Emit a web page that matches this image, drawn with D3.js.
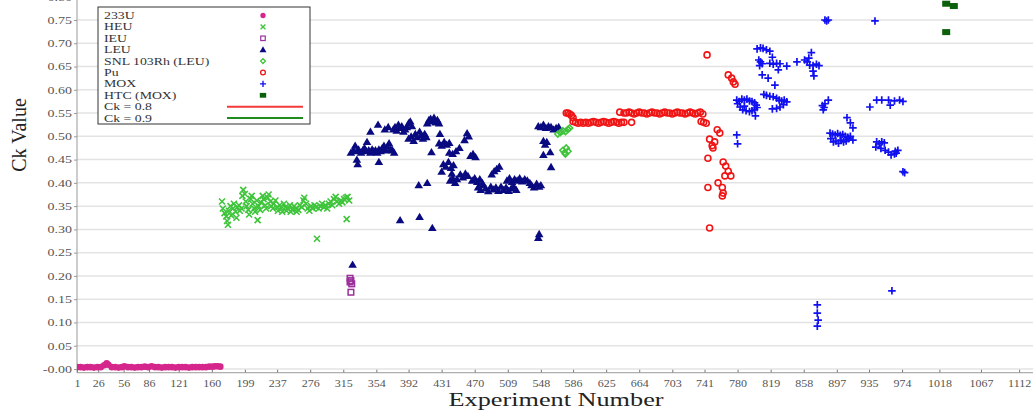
<!DOCTYPE html>
<html><head><meta charset="utf-8">
<script src="https://cdn.jsdelivr.net/npm/d3@7"></script>
<style>body{margin:0;background:#fff;}svg{display:block;}</style>
</head><body>
<svg id="c" width="1033" height="410"></svg>
<script>
// ---------- data ----------
const xTickLabels = [1,26,56,86,121,160,199,237,276,315,354,392,431,470,509,548,586,625,664,703,741,780,819,858,897,935,974,1018,1067,1112];
const yTickValues = [0,0.05,0.10,0.15,0.20,0.25,0.30,0.35,0.40,0.45,0.50,0.55,0.60,0.65,0.70,0.75,0.80];
const yTickLabels = ["-0.00","0.05","0.10","0.15","0.20","0.25","0.30","0.35","0.40","0.45","0.50","0.55","0.60","0.65","0.70","0.75","0.80"];
const legendLabels = ["233U","HEU","IEU","LEU","SNL 103Rh (LEU)","Pu","MOX","HTC (MOX)","Ck = 0.8","Ck = 0.9"];
const refLines = [0.8, 0.9];

const u233 = [[1,0.004],[5,0.004],[9,0.003],[13,0.004],[17,0.004],[21,0.003],[25,0.004],[29,0.004],[33,0.008],[36,0.012],[38,0.009],[42,0.004],[46,0.004],[50,0.003],[54,0.004],[57,0.006],[61,0.004],[65,0.004],[69,0.003],[73,0.004],[77,0.004],[81,0.005],[85,0.004],[89,0.006],[93,0.004],[97,0.004],[101,0.003],[105,0.004],[109,0.004],[113,0.004],[117,0.003],[121,0.004],[125,0.004],[129,0.004],[133,0.003],[137,0.004],[141,0.004],[145,0.004],[149,0.004],[153,0.004],[157,0.005],[161,0.005],[164,0.006],[167,0.006],[170,0.005]];

const heu = [[172,0.360],[173,0.345],[175,0.335],[177,0.328],[178,0.318],[179,0.310],[180,0.340],[182,0.350],[183,0.330],[185,0.345],[186,0.355],[188,0.338],[189,0.325],[190,0.348],[192,0.352],[193,0.340],[195,0.345],[196,0.372],[197,0.385],[199,0.376],[200,0.360],[201,0.350],[203,0.342],[204,0.332],[206,0.365],[207,0.372],[208,0.355],[210,0.345],[211,0.338],[213,0.362],[214,0.320],[215,0.350],[217,0.342],[218,0.358],[220,0.372],[221,0.365],[223,0.352],[224,0.345],[226,0.368],[227,0.375],[229,0.360],[230,0.350],[232,0.345],[233,0.355],[235,0.362],[237,0.348],[238,0.340],[240,0.352],[242,0.345],[243,0.338],[245,0.355],[247,0.348],[248,0.340],[250,0.345],[252,0.352],[253,0.338],[255,0.342],[257,0.350],[259,0.345],[260,0.338],[262,0.342],[264,0.352],[266,0.348],[268,0.362],[269,0.368],[271,0.355],[273,0.345],[275,0.340],[277,0.350],[279,0.345],[281,0.352],[283,0.348],[284,0.280],[286,0.345],[288,0.350],[290,0.355],[292,0.348],[294,0.352],[296,0.345],[298,0.355],[300,0.360],[302,0.352],[304,0.365],[306,0.370],[308,0.360],[310,0.355],[312,0.362],[314,0.358],[316,0.365],[318,0.368],[319,0.322],[320,0.370],[322,0.362]];

const ieu = [[323,0.195],[324,0.190],[323,0.187],[325,0.183],[324,0.165]];

const leu = [[326,0.224],
[324,0.465],[327,0.470],[329,0.480],[331,0.468],[333,0.472],[336,0.465],[338,0.470],[340,0.475],[342,0.468],[345,0.470],[347,0.465],[349,0.472],[351,0.468],[353,0.470],[355,0.465],[357,0.472],[359,0.468],[361,0.475],[363,0.480],[365,0.470],[367,0.478],[369,0.485],[371,0.472],[373,0.470],[375,0.465],
[331,0.450],[332,0.440],[357,0.445],
[343,0.488],[347,0.510],[356,0.525],[364,0.515],[368,0.520],
[374,0.515],[376,0.520],[378,0.512],[380,0.525],[382,0.518],[384,0.522],[386,0.510],[388,0.515],[390,0.520],[392,0.528],[394,0.532],[396,0.522],
[392,0.495],[395,0.500],[398,0.490],[400,0.505],[402,0.498],[405,0.510],[407,0.502],[409,0.495],[411,0.505],[413,0.498],
[414,0.528],[416,0.535],[418,0.538],[420,0.532],[422,0.540],[424,0.530],[426,0.535],[428,0.528],
[419,0.466],[429,0.505],
[428,0.485],[431,0.480],[434,0.488],[437,0.482],[440,0.486],
[433,0.440],[436,0.435],[439,0.445],[442,0.432],[445,0.438],
[440,0.465],[444,0.462],[448,0.468],
[452,0.475],[458,0.492],[461,0.507],[463,0.500],
[465,0.458],[468,0.462],[471,0.455],
[431,0.424],[443,0.420],
[441,0.405],[444,0.410],[447,0.400],[449,0.408],
[453,0.418],[456,0.412],[459,0.420],[462,0.415],
[467,0.405],[470,0.410],[473,0.402],[476,0.408],[479,0.400],
[474,0.390],[477,0.385],[480,0.395],[483,0.388],[486,0.382],[489,0.392],[492,0.386],
[490,0.418],[493,0.425],[496,0.430],[499,0.435],
[495,0.390],[498,0.383],[501,0.392],[504,0.385],[507,0.390],[510,0.383],[513,0.388],[516,0.392],[519,0.385],
[508,0.405],[511,0.410],[514,0.402],[517,0.408],[520,0.405],[523,0.410],[526,0.403],[529,0.408],[532,0.405],[535,0.400],
[537,0.395],[540,0.390],[543,0.398],[546,0.392],[548,0.395],
[404,0.395],[414,0.400],
[382,0.320],[405,0.327],[420,0.303],[546,0.290],[545,0.282],
[545,0.522],[548,0.520],[551,0.525],[554,0.518],[557,0.522],[560,0.520],[563,0.515],[566,0.518],[569,0.520],
[551,0.490],[553,0.482],[555,0.488],
[551,0.460],[559,0.466],[560,0.434]];

const snl = [[568,0.505],[571,0.508],[574,0.512],[577,0.510],[580,0.515],[582,0.518],[574,0.470],[576,0.465],[578,0.475],[580,0.468],[577,0.462]];

const pu = [[578,0.550],[580,0.550],[582,0.548],[584,0.545],[586,0.540],
[586,0.532],[589,0.530],[592,0.528],[595,0.530],[598,0.528],[601,0.530],[604,0.528],[607,0.530],[610,0.532],[613,0.530],[616,0.528],[619,0.530],[622,0.532],[625,0.530],[628,0.528],[631,0.530],[634,0.532],[637,0.530],[640,0.528],[643,0.530],[646,0.530],[655,0.530],
[641,0.552],[646,0.550],[649,0.550],[652,0.552],[655,0.550],[658,0.548],[661,0.550],[664,0.552],[667,0.550],[670,0.550],[673,0.548],[676,0.550],[679,0.552],[682,0.550],[685,0.550],[688,0.548],[691,0.550],[694,0.552],[697,0.550],[700,0.550],[703,0.548],[706,0.550],[709,0.552],[712,0.550],[715,0.550],[718,0.548],[721,0.550],[724,0.552],[727,0.550],[730,0.548],[733,0.550],[736,0.552],[739,0.548],
[737,0.532],[740,0.530],[743,0.528],
[756,0.514],[759,0.507],[747,0.494],[753,0.488],[750,0.480],[751,0.475],
[745,0.453],
[763,0.445],[766,0.436],[769,0.425],[765,0.415],[772,0.415],
[745,0.390],[757,0.400],[762,0.390],[763,0.378],[762,0.372],
[747,0.303],[744,0.675],
[769,0.632],[773,0.625],[775,0.617],[777,0.612]];

const mox = [[803,0.688],[807,0.690],[810,0.689],[814,0.686],[818,0.683],[821,0.670],
[805,0.664],[807,0.660],[809,0.656],[806,0.652],
[818,0.657],[822,0.655],[826,0.657],[830,0.656],[828,0.643],
[838,0.651],[850,0.660],[859,0.664],[862,0.660],[864,0.668],[867,0.680],
[865,0.653],[869,0.652],[873,0.655],[876,0.652],[869,0.640],[870,0.630],
[809,0.632],[816,0.625],[824,0.610],
[883,0.750],[885,0.748],[887,0.750],[942,0.748],
[779,0.578],[782,0.575],[785,0.580],[788,0.578],[791,0.580],[794,0.576],[797,0.575],[800,0.572],[802,0.567],[803,0.562],[800,0.558],[797,0.555],[794,0.553],[790,0.555],[786,0.557],[783,0.563],[780,0.570],[788,0.565],[801,0.544],
[811,0.590],[814,0.588],[818,0.586],[822,0.585],[826,0.582],[829,0.578],[832,0.576],[835,0.578],[838,0.574],[834,0.568],[830,0.563],[826,0.560],[821,0.559],
[779,0.503],[780,0.484],
[887,0.578],[883,0.570],[880,0.566],[881,0.557],[882,0.562],
[909,0.540],[913,0.529],[916,0.518],
[889,0.507],[892,0.505],[895,0.503],[898,0.506],[901,0.502],[904,0.504],[907,0.500],[910,0.498],[913,0.500],[916,0.492],[890,0.495],[893,0.488],[896,0.490],[899,0.485],[902,0.492],[905,0.488],[908,0.490],[911,0.495],
[936,0.563],[944,0.578],[950,0.578],[958,0.578],[965,0.576],[971,0.578],[975,0.575],[960,0.567],
[944,0.488],[947,0.484],[950,0.488],[953,0.486],[943,0.477],[949,0.474],[954,0.470],[958,0.466],[961,0.460],[965,0.462],[969,0.470],[967,0.464],[966,0.468],
[975,0.424],[977,0.422],
[874,0.138],[874,0.120],[875,0.105],[874,0.092],[962,0.168]];

const htc = [[1026,0.724],[1026,0.785],[1035,0.780]];

// ---------- drawing ----------
const W = 1033, H = 410;
const svg = d3.select("#c");
const x = d3.scaleLinear().domain([1, 1130]).range([77, 77 + 1129 * 0.848]);
const y = d3.scaleLinear().domain([0, 0.75]).range([369, 20]);
const yBottom = y(-0.008);
const serif = "'Liberation Serif','Times New Roman',Times,serif";

svg.append("defs").append("clipPath").attr("id","clip").append("rect")
  .attr("x", 77).attr("y", -200).attr("width", W - 77).attr("height", yBottom + 200);

// grid
svg.append("g").selectAll("line").data(yTickValues).join("line")
  .attr("x1", 77).attr("x2", W).attr("y1", d => y(d)).attr("y2", d => y(d))
  .attr("stroke", "#e3e3e3").attr("stroke-width", 1.5);

// axes
const gy = svg.append("g").attr("transform", "translate(77,0)")
  .call(d3.axisLeft(y).tickValues(yTickValues).tickFormat((d, i) => yTickLabels[i]).tickSize(3));
gy.select(".domain").remove();
gy.selectAll(".tick line").attr("stroke", "#999");
gy.selectAll("text").attr("x", 0).attr("dy", "0.33em")
  .attr("transform", "translate(-5,0) scale(1.4,1)")
  .attr("font-family", serif).attr("font-size", 10).attr("fill", "#555");

const gx = svg.append("g").attr("transform", `translate(0,${yBottom})`)
  .call(d3.axisBottom(x).tickValues(xTickLabels).tickFormat(d => d).tickSizeInner(-3).tickSizeOuter(0));
gx.select(".domain").remove();
gx.selectAll(".tick line").attr("stroke", "#777");
gx.selectAll("text").attr("y", 0).attr("dy", "0.71em")
  .attr("transform", "translate(0,7) scale(1.2,1)")
  .attr("font-family", serif).attr("font-size", 10).attr("fill", "#555");

svg.append("line").attr("x1", 77).attr("x2", W).attr("y1", yBottom).attr("y2", yBottom)
  .attr("stroke", "#999").attr("stroke-width", 1);
svg.append("line").attr("x1", 77).attr("x2", 77).attr("y1", 0).attr("y2", yBottom)
  .attr("stroke", "#999").attr("stroke-width", 1);

// axis titles
svg.append("text").attr("transform", "translate(26,135) rotate(-90)")
  .attr("text-anchor", "middle").attr("font-family", serif).attr("font-size", 20)
  .attr("fill", "#222").text("Ck Value");
svg.append("text").attr("transform", "translate(556,405.6) scale(1.42,1)")
  .attr("text-anchor", "middle").attr("font-family", serif).attr("font-size", 18.5)
  .attr("fill", "#222").text("Experiment Number");

// marker drawers
const drawers = [
  g => g.append("circle").attr("r", 3.3).attr("fill", "#d4268b"),
  g => g.append("path").attr("d", "M-3,-3L3,3M-3,3L3,-3").attr("stroke", "#3ec43a").attr("stroke-width", 1.6).attr("fill", "none"),
  g => g.append("rect").attr("x", -2.8).attr("y", -2.8).attr("width", 5.6).attr("height", 5.6).attr("fill", "none").attr("stroke", "#9b2f9b").attr("stroke-width", 1.5),
  g => g.append("path").attr("d", "M0,-4.2L4.3,3.1L-4.3,3.1Z").attr("fill", "#0a0a80"),
  g => g.append("path").attr("d", "M0,-3L3,0L0,3L-3,0Z").attr("fill", "none").attr("stroke", "#3ec43a").attr("stroke-width", 1.6),
  g => g.append("circle").attr("r", 3).attr("fill", "none").attr("stroke", "#f01515").attr("stroke-width", 1.6),
  g => g.append("path").attr("d", "M-3.8,0H3.8M0,-3.8V3.8").attr("stroke", "#1010f0").attr("stroke-width", 1.7).attr("fill", "none"),
  g => g.append("rect").attr("x", -4).attr("y", -3).attr("width", 8).attr("height", 6).attr("fill", "#0b600b")
];
const seriesData = [u233, heu, ieu, leu, snl, pu, mox, htc];

const plotG = svg.append("g").attr("clip-path", "url(#clip)");
// reference lines
const refColors = ["#f23a3a", "#1f8a1f"];
plotG.selectAll("line.ref").data(refLines).join("line").attr("class", "ref")
  .attr("x1", 77).attr("x2", W).attr("y1", d => y(d)).attr("y2", d => y(d))
  .attr("stroke", (d, i) => refColors[i]).attr("stroke-width", 2);

seriesData.forEach((data, i) => {
  const pts = plotG.append("g").selectAll("g").data(data).join("g")
    .attr("transform", d => `translate(${x(d[0])},${y(d[1])})`);
  drawers[i](pts);
});

// legend
const lg = svg.append("g");
lg.append("rect").attr("x", 98).attr("y", 7).attr("width", 212).attr("height", 117)
  .attr("fill", "#fff").attr("stroke", "#333").attr("stroke-width", 1);
legendLabels.forEach((lab, i) => {
  const cy = 15.5 + i * 11.4;
  lg.append("text").attr("transform", `translate(104,${cy + 3.5}) scale(1.38,1)`)
    .attr("font-family", serif).attr("font-size", 10).attr("fill", "#333").text(lab);
  if (i < 8) {
    const g = lg.append("g").attr("transform", `translate(263,${cy}) scale(0.8)`);
    drawers[i](g);
  } else {
    lg.append("line").attr("x1", 227).attr("x2", 303).attr("y1", cy).attr("y2", cy)
      .attr("stroke", refColors[i - 8]).attr("stroke-width", 2);
  }
});
</script>
</body></html>
